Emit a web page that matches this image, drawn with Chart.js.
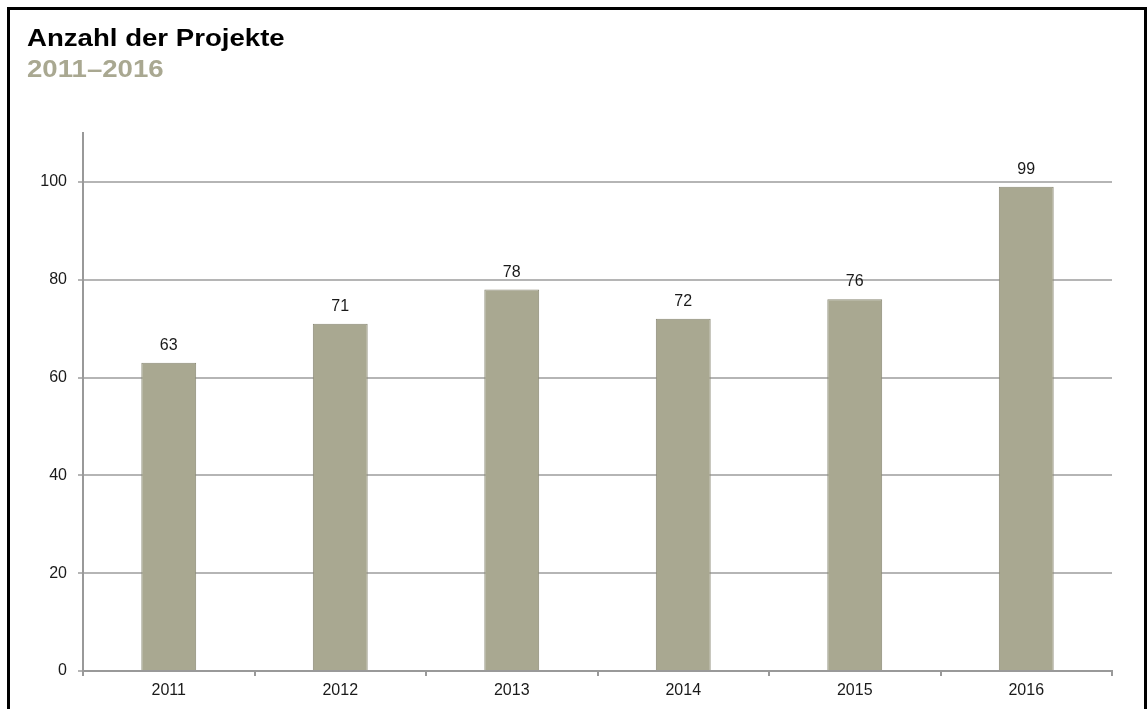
<!DOCTYPE html>
<html lang="de">
<head>
<meta charset="utf-8">
<title>Anzahl der Projekte</title>
<script src="https://cdn.jsdelivr.net/npm/chart.js@4.4.1/dist/chart.umd.min.js"></script>
<style>
    html, body { margin: 0; padding: 0; background: #fff; overflow: hidden; }
    #frame {
        position: absolute; left: 7px; top: 7px;
        width: 1134px; height: 900px;
        border: 3px solid #000;
    }
    #title {
        position: absolute; left: 27px; top: 22px;
        font-family: "Liberation Sans", Arial, sans-serif;
        font-weight: bold; font-size: 24px; line-height: 31px;
        transform: scaleX(1.15); transform-origin: left top;
        white-space: nowrap;
    }
    #title .sub { color: #a9a891; }
    #wrap { position: absolute; left: 0; top: 0; width: 1148px; height: 709px; }
</style>
</head>
<body>
<div id="frame"></div>
<div id="wrap"><canvas id="myChart"></canvas></div>
<div id="title">Anzahl der Projekte<br><span class="sub">2011–2016</span></div>

<script>
// data
const years = ['2011', '2012', '2013', '2014', '2015', '2016'];
const projects = [63, 71, 78, 72, 76, 99];
const yTicks = [0, 20, 40, 60, 80, 100];

const barColor = '#a9a891';
const textColor = '#1a1a1a';
const fontFamily = '"Liberation Sans", Arial, sans-serif';

// draws the value above each bar
const valueLabels = {
    id: 'valueLabels',
    afterDatasetsDraw(chart) {
        const ctx = chart.ctx;
        const meta = chart.getDatasetMeta(0);
        ctx.save();
        ctx.font = '16px ' + fontFamily;
        ctx.fillStyle = textColor;
        ctx.textAlign = 'center';
        ctx.textBaseline = 'alphabetic';
        meta.data.forEach((bar, i) => {
            ctx.fillText(String(chart.data.datasets[0].data[i]), bar.x, bar.y - 13);
        });
        ctx.restore();
    }
};

let myChart;

function initializeChart() {
    const ctx = document.getElementById('myChart');
    myChart = new Chart(ctx, {
        type: 'bar',
        data: {
            labels: years,
            datasets: [{
                label: 'Projekte',
                data: projects,
                backgroundColor: barColor,
                borderColor: '#8a8975',
                borderWidth: 1,
                barPercentage: 0.32,
                categoryPercentage: 1
            }]
        },
        options: {
            responsive: true,
            maintainAspectRatio: false,
            animation: false,
            layout: { padding: { top: 133, right: 36, bottom: 0, left: 0 } },
            plugins: {
                legend: { display: false },
                tooltip: { enabled: false }
            },
            scales: {
                x: {
                    offset: true,
                    grid: {
                        offset: true,
                        drawOnChartArea: false,
                        drawTicks: true,
                        tickLength: 5,
                        color: '#999',
                        lineWidth: 2
                    },
                    border: { color: '#999', width: 2 },
                    ticks: {
                        color: textColor,
                        font: { family: fontFamily, size: 16 },
                        padding: 5,
                        maxRotation: 0
                    },
                    afterFit(scale) { scale.height = 38; }
                },
                y: {
                    min: 0,
                    max: 110,
                    afterBuildTicks(scale) {
                        scale.ticks = yTicks.map(v => ({ value: v }));
                    },
                    grid: {
                        color: '#b5b5b5',
                        lineWidth: 2,
                        tickLength: 5
                    },
                    border: { color: '#999', width: 2 },
                    ticks: {
                        color: textColor,
                        font: { family: fontFamily, size: 16 },
                        padding: 11
                    },
                    afterFit(scale) { scale.width = 83; }
                }
            }
        },
        plugins: [valueLabels]
    });
}

document.addEventListener('DOMContentLoaded', function() {
    initializeChart();
});
</script>
</body>
</html>
